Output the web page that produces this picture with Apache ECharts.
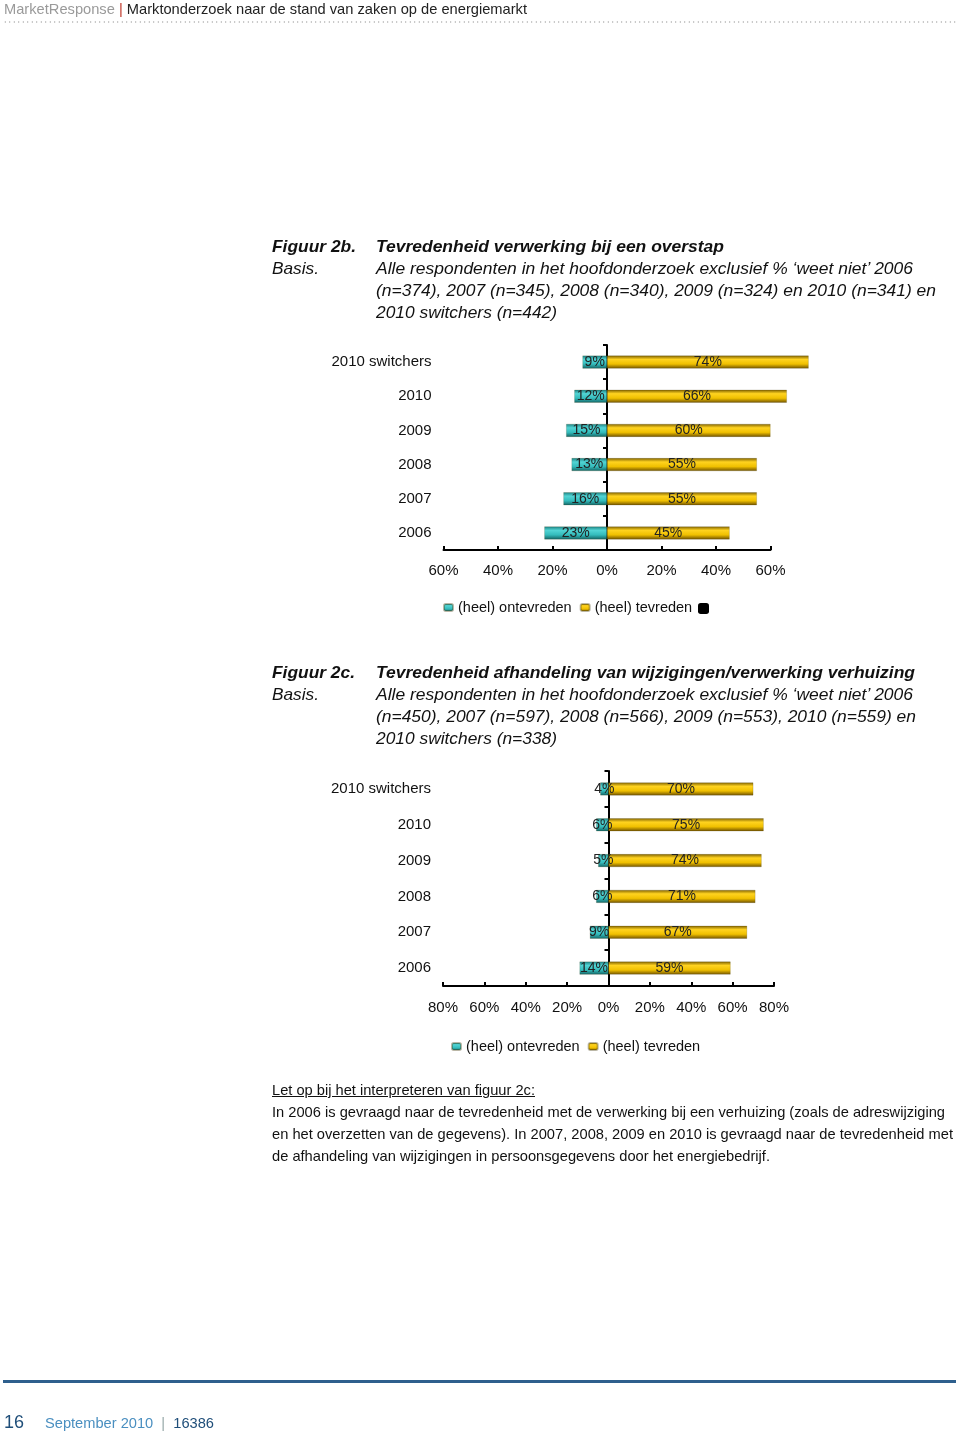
<!DOCTYPE html>
<html><head><meta charset="utf-8">
<script src="https://cdn.jsdelivr.net/npm/echarts@6/dist/echarts.min.js"></script>
<style>
html,body{margin:0;padding:0;background:#fff;}
body{width:960px;height:1433px;position:relative;overflow:hidden;font-family:"Liberation Sans",Arial,Helvetica,sans-serif;color:#111;}
#c{position:absolute;left:0;top:0;width:960px;height:1433px;z-index:1;}
.t{position:absolute;white-space:nowrap;transform-origin:0 50%;z-index:2;display:inline-block;}
.h{font-size:15px;line-height:18px;}
.fig{font-size:17px;line-height:22px;font-style:italic;}
.b{font-weight:bold;}
.note{font-size:15px;line-height:22px;font-family:"Liberation Sans Narrow","Liberation Sans",Arial,sans-serif;}
#dots{position:absolute;left:3px;top:21px;width:954px;height:2px;z-index:2;
 background-image:radial-gradient(circle,#b5b5b5 0.8px,transparent 1px);background-size:4.5px 2px;background-repeat:repeat-x;}
#foot{position:absolute;left:3px;top:1380px;width:953px;height:3px;background:#2e5f8d;z-index:2;}
</style></head>
<body>
<div id="c"></div>
<div class="t h" style="left:4px;top:0px;" data-w="523"><span style="color:#9a9a9a">MarketResponse</span> <span style="color:#c0392b">|</span> <span style="color:#222">Marktonderzoek naar de stand van zaken op de energiemarkt</span></div>
<div id="dots"></div>

<div class="t fig b" style="left:272px;top:236px;" data-w="84">Figuur 2b.</div>
<div class="t fig b" style="left:376px;top:236px;" data-w="348">Tevredenheid verwerking bij een overstap</div>
<div class="t fig" style="left:272px;top:258px;" data-w="47">Basis.</div>
<div class="t fig" style="left:376px;top:258px;" data-w="537">Alle respondenten in het hoofdonderzoek exclusief % ‘weet niet’ 2006</div>
<div class="t fig" style="left:376px;top:280px;" data-w="560">(n=374), 2007 (n=345), 2008 (n=340), 2009 (n=324) en 2010 (n=341) en</div>
<div class="t fig" style="left:376px;top:302px;" data-w="181">2010 switchers (n=442)</div>

<div class="t fig b" style="left:272px;top:662px;" data-w="83">Figuur 2c.</div>
<div class="t fig b" style="left:376px;top:662px;" data-w="539">Tevredenheid afhandeling van wijzigingen/verwerking verhuizing</div>
<div class="t fig" style="left:272px;top:684px;" data-w="47">Basis.</div>
<div class="t fig" style="left:376px;top:684px;" data-w="537">Alle respondenten in het hoofdonderzoek exclusief % ‘weet niet’ 2006</div>
<div class="t fig" style="left:376px;top:706px;" data-w="540">(n=450), 2007 (n=597), 2008 (n=566), 2009 (n=553), 2010 (n=559) en</div>
<div class="t fig" style="left:376px;top:728px;" data-w="181">2010 switchers (n=338)</div>

<div class="t note" style="left:272px;top:1079px;text-decoration:underline;" data-w="263">Let op bij het interpreteren van figuur 2c:</div>
<div class="t note" style="left:272px;top:1101px;" data-w="673">In 2006 is gevraagd naar de tevredenheid met de verwerking bij een verhuizing (zoals de adreswijziging</div>
<div class="t note" style="left:272px;top:1123px;" data-w="681">en het overzetten van de gegevens). In 2007, 2008, 2009 en 2010 is gevraagd naar de tevredenheid met</div>
<div class="t note" style="left:272px;top:1145px;" data-w="498">de afhandeling van wijzigingen in persoonsgegevens door het energiebedrijf.</div>

<div id="foot"></div>
<div class="t" style="left:4px;top:1411px;font-size:18px;line-height:22px;color:#1f4e79;">16</div>
<div class="t" style="left:45px;top:1413px;font-size:15px;line-height:20px;" data-w="169"><span style="color:#4a8fc0">September 2010</span> <span style="color:#9aa">&nbsp;|&nbsp;</span> <span style="color:#1f4e79">16386</span></div>

<script>
// ---- data ----
const categories = ['2010 switchers', '2010', '2009', '2008', '2007', '2006'];
const seriesNames = ['(heel) ontevreden', '(heel) tevreden'];
const fig2bOntevreden = [9, 12, 15, 13, 16, 23];
const fig2bTevreden = [74, 66, 60, 55, 55, 45];
const fig2cOntevreden = [4, 6, 5, 6, 9, 14];
const fig2cTevreden = [70, 75, 74, 71, 67, 59];
const fig2bTicks = [-60, -40, -20, 0, 20, 40, 60];
const fig2cTicks = [-80, -60, -40, -20, 0, 20, 40, 60, 80];

// fit text widths
document.querySelectorAll('[data-w]').forEach(el => {
  const w = +el.dataset.w, a = el.getBoundingClientRect().width;
  if (a > 0) el.style.transform = 'scaleX(' + (w / a).toFixed(4) + ')';
});

const G = echarts.graphic;
const teal = new G.LinearGradient(0, 0, 0, 1, [
  {offset: 0, color: '#1b7f7f'}, {offset: 0.3, color: '#52d4d4'},
  {offset: 0.65, color: '#34bcbc'}, {offset: 1, color: '#136262'}]);
const gold = new G.LinearGradient(0, 0, 0, 1, [
  {offset: 0, color: '#7d5f00'}, {offset: 0.3, color: '#ffd320'},
  {offset: 0.65, color: '#f0c000'}, {offset: 1, color: '#6e5000'}]);

const txt = '#111';
const font = '"Liberation Sans", Arial, Helvetica, sans-serif';
const pct = v => Math.abs(v) + '%';

function xAxis(ticks, gi, margin) {
  return {
    type: 'value', gridIndex: gi, min: ticks[0], max: ticks[ticks.length - 1],
    interval: ticks[1] - ticks[0],
    axisLine: {show: true, lineStyle: {color: '#000', width: 2}},
    axisTick: {show: true, inside: true, length: 4, lineStyle: {color: '#000', width: 2}},
    splitLine: {show: false},
    axisLabel: {formatter: pct, color: txt, fontSize: 15, fontFamily: font, margin: margin}
  };
}
function yAxis(gi, margin) {
  return {
    type: 'category', gridIndex: gi, data: categories, inverse: true,
    axisLine: {show: true, onZero: true, lineStyle: {color: '#000', width: 2}},
    axisTick: {show: true, length: 4, lineStyle: {color: '#000', width: 2}},
    axisLabel: {color: txt, fontSize: 15, fontFamily: font, margin: margin, align: 'right'}
  };
}
function bars(vals, name, color, gi, neg, stack) {
  return {
    type: 'bar', name: name, xAxisIndex: gi, yAxisIndex: gi, stack: stack,
    barWidth: 13, clip: false,
    data: vals.map(v => neg ? -v : v),
    itemStyle: {color: color, borderColor: 'rgba(60,50,0,0.35)', borderWidth: 0.5},
    label: {show: true, position: 'inside', formatter: p => pct(p.value),
      color: '#222', fontSize: 14, fontFamily: font},
    emphasis: {disabled: true}
  };
}

const chart = echarts.init(document.getElementById('c'), null, {renderer: 'canvas'});
chart.setOption({
  animation: false,
  backgroundColor: '#fff',
  grid: [
    {left: 443.5, top: 345, width: 327, height: 205},
    {left: 443, top: 771, width: 331, height: 215}
  ],
  xAxis: [xAxis(fig2bTicks, 0, 13), xAxis(fig2cTicks, 1, 14)],
  yAxis: [yAxis(0, 12), yAxis(1, 12)],
  legend: [
    {left: 443, top: 600, padding: 0, itemWidth: 9, itemHeight: 7, itemGap: 8, data: seriesNames,
     textStyle: {color: txt, fontSize: 14.5, fontFamily: font}, selectedMode: false},
    {left: 698, top: 603, padding: 0, itemWidth: 11, itemHeight: 11, data: [' '],
     textStyle: {fontSize: 1}, selectedMode: false},
    {left: 451, top: 1039, padding: 0, itemWidth: 9, itemHeight: 7, itemGap: 8, data: seriesNames,
     textStyle: {color: txt, fontSize: 14.5, fontFamily: font}, selectedMode: false}
  ],
  series: [
    bars(fig2bOntevreden, seriesNames[0], teal, 0, true, 'a'),
    bars(fig2bTevreden, seriesNames[1], gold, 0, false, 'a'),
    {type: 'bar', name: ' ', xAxisIndex: 0, yAxisIndex: 0, stack: 'a', data: [], itemStyle: {color: '#000'}},
    bars(fig2cOntevreden, seriesNames[0], teal, 1, true, 'b'),
    bars(fig2cTevreden, seriesNames[1], gold, 1, false, 'b')
  ]
});
</script>
</body></html>
